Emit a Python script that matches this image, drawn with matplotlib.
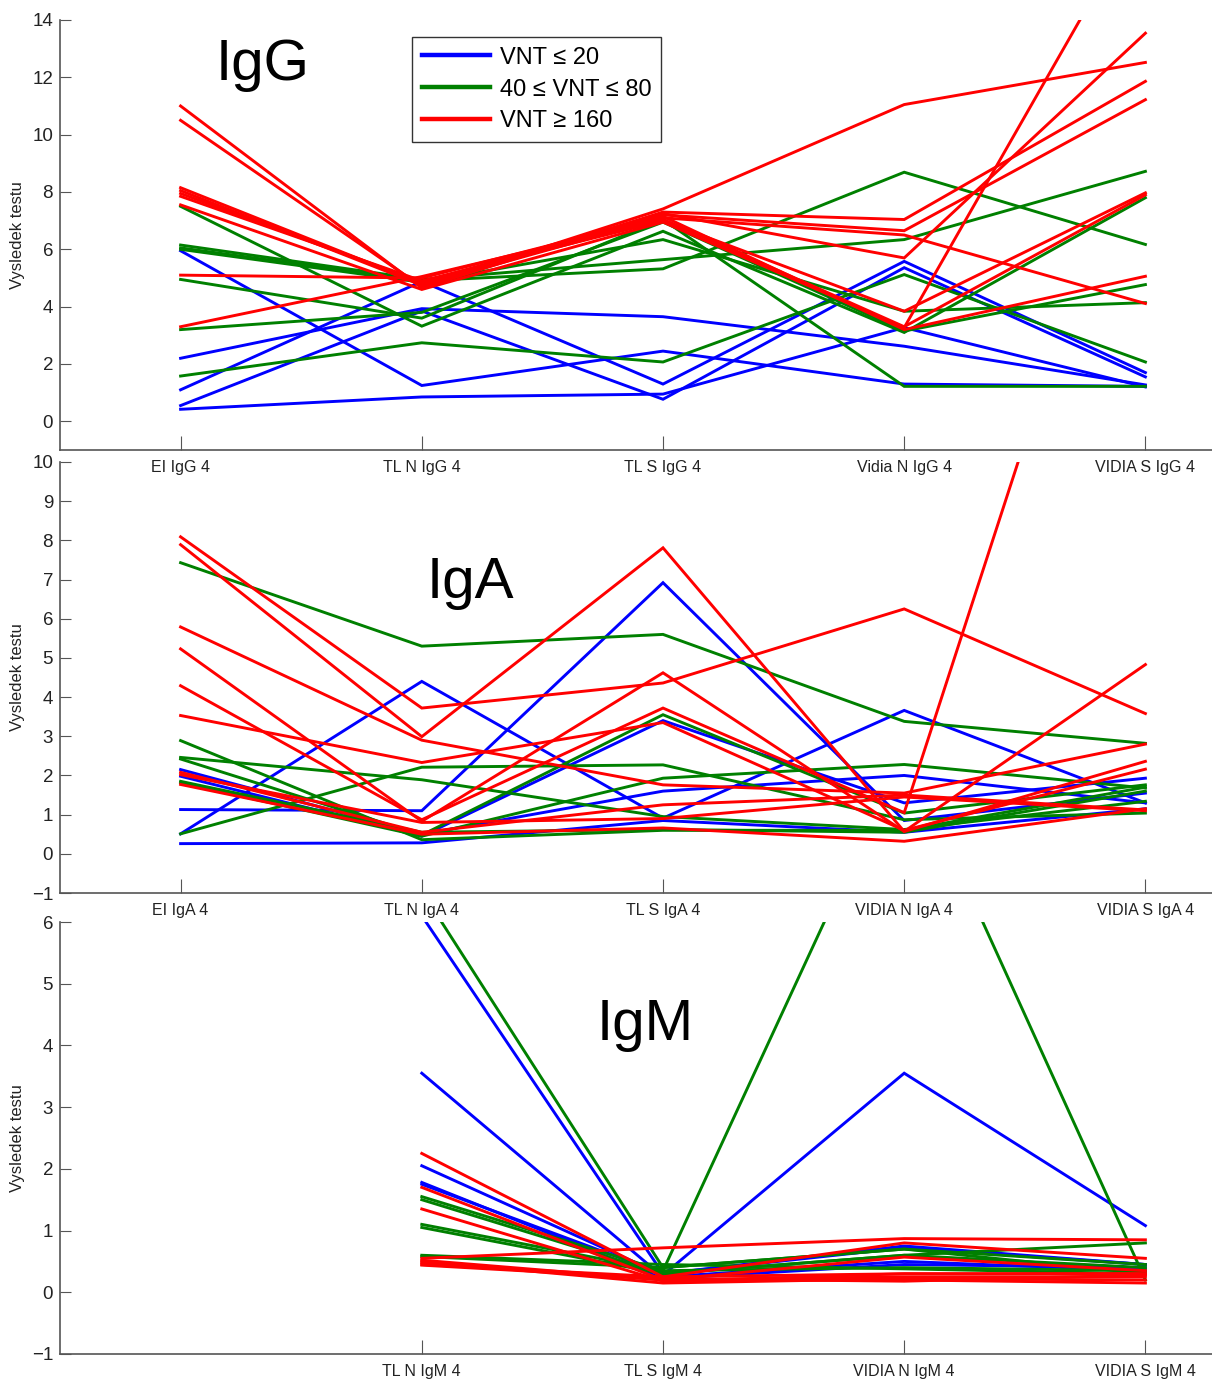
import matplotlib
matplotlib.use("Agg")
import matplotlib.pyplot as plt
from matplotlib.lines import Line2D

plt.rcParams['font.family'] = ['Liberation Sans', 'DejaVu Sans']

# category labels for each panel
igg_labels = ["EI IgG 4", "TL N IgG 4", "TL S IgG 4", "Vidia N IgG 4", "VIDIA S IgG 4"]
iga_labels = ["EI IgA 4", "TL N IgA 4", "TL S IgA 4", "VIDIA N IgA 4", "VIDIA S IgA 4"]
igm_labels = ["TL N IgM 4", "TL S IgM 4", "VIDIA N IgM 4", "VIDIA S IgM 4"]

# IgG results, one row per patient
igg_blue = [
    [5.95, 1.25, 2.45, 1.30, 1.22],
    [2.20, 3.93, 3.65, 2.62, 1.27],
    [1.10, 4.88, 1.30, 5.58, 1.70],
    [0.55, 3.85, 0.77, 5.36, 1.55],
    [0.42, 0.85, 0.95, 3.27, 1.20],
]
igg_green = [
    [7.50, 3.32, 6.63, 3.10, 7.80],
    [6.15, 4.95, 5.64, 6.34, 8.72],
    [6.05, 4.90, 5.32, 8.69, 6.17],
    [6.00, 4.85, 6.34, 3.84, 4.14],
    [4.95, 3.60, 7.04, 1.22, 1.22],
    [3.20, 3.80, 6.95, 3.15, 4.77],
    [1.58, 2.74, 2.07, 5.12, 2.07],
]
igg_red = [
    [11.0, 4.65, 7.30, 7.04, 11.86],
    [10.5, 4.70, 7.41, 11.05, 12.52],
    [8.15, 4.80, 7.20, 6.65, 11.22],
    [8.05, 4.75, 7.10, 6.50, 4.11],
    [7.95, 4.85, 7.25, 5.70, 13.54],
    [7.85, 4.90, 7.00, 3.84, 7.97],
    [7.55, 4.60, 6.95, 3.27, 18.0],
    [5.10, 5.00, 7.15, 3.20, 5.06],
    [3.30, 5.05, 7.05, 3.30, 7.90],
]

# IgA results
iga_blue = [
    [0.51, 4.40, 0.91, 3.66, 1.30],
    [1.13, 1.10, 6.92, 0.85, 1.55],
    [2.15, 0.50, 1.60, 2.00, 1.30],
    [1.98, 0.45, 3.40, 1.30, 1.93],
    [0.26, 0.28, 0.85, 0.55, 1.15],
]
iga_green = [
    [7.43, 5.30, 5.60, 3.38, 2.82],
    [2.89, 0.36, 0.60, 0.60, 1.70],
    [2.46, 1.89, 0.95, 0.62, 1.34],
    [2.42, 0.48, 3.55, 1.04, 1.76],
    [1.81, 0.45, 1.93, 2.28, 1.68],
    [0.51, 2.21, 2.27, 0.87, 1.04],
    [1.85, 0.55, 0.62, 0.55, 1.60],
]
iga_red = [
    [8.09, 3.72, 4.36, 6.25, 3.58],
    [7.89, 2.99, 7.81, 0.57, 4.83],
    [5.79, 2.90, 1.76, 1.55, 2.80],
    [5.23, 0.83, 4.62, 0.57, 2.36],
    [4.29, 0.87, 3.72, 1.05, 20.0],
    [3.53, 2.33, 3.35, 0.60, 2.16],
    [2.08, 0.55, 1.25, 1.50, 1.12],
    [2.02, 0.80, 0.90, 1.45, 1.10],
    [1.77, 0.50, 0.66, 0.32, 1.15],
]

# IgM results
igm_blue = [
    [6.10, 0.30, 0.75, 0.45],
    [3.55, 0.25, 0.50, 0.35],
    [2.05, 0.28, 3.55, 1.08],
    [1.78, 0.22, 0.45, 0.40],
    [1.75, 0.30, 0.72, 0.45],
]
igm_green = [
    [6.50, 0.40, 0.70, 0.45],
    [1.55, 0.35, 8.80, 0.20],
    [1.50, 0.30, 0.60, 0.80],
    [1.10, 0.35, 0.40, 0.35],
    [1.05, 0.30, 0.60, 0.40],
    [0.60, 0.45, 0.38, 0.30],
    [0.58, 0.40, 0.70, 0.30],
]
igm_red = [
    [2.25, 0.25, 0.80, 0.55],
    [1.70, 0.20, 0.57, 0.35],
    [1.35, 0.18, 0.30, 0.30],
    [0.55, 0.72, 0.87, 0.85],
    [0.52, 0.20, 0.25, 0.25],
    [0.50, 0.15, 0.22, 0.20],
    [0.48, 0.20, 0.20, 0.15],
    [0.45, 0.25, 0.30, 0.30],
    [0.44, 0.22, 0.18, 0.28],
]

legend_labels = ["VNT \u2264 20", "40 \u2264 VNT \u2264 80", "VNT \u2265 160"]
colors = ["#0000ff", "#008000", "#ff0000"]

W, H = 1212, 1379
fig = plt.figure(figsize=(W / 100, H / 100), dpi=100)


def make_axes(top_px, bottom_px):
    left = 60 / W
    width = 1206 / W
    ax = fig.add_axes([left, 1 - bottom_px / H, width, (bottom_px - top_px) / H])
    ax.patch.set_visible(False)
    return ax


def style(ax, ylo, yhi, yticks, xpos, xlabels):
    ax.set_xlim(0.5, 5.5)
    ax.set_ylim(ylo, yhi)
    ax.set_yticks(yticks)
    ax.set_xticks(xpos)
    ax.set_xticklabels(xlabels, fontsize=11.5, color='#222222')
    ax.tick_params(axis='y', labelsize=13.5, labelcolor='#222222', direction='in',
                   length=8, color='#555555', pad=5)
    ax.tick_params(axis='x', direction='in', length=10, color='#555555', pad=7)
    for s in ['top', 'right']:
        ax.spines[s].set_visible(False)
    for s in ['left', 'bottom']:
        ax.spines[s].set_color('#555555')
        ax.spines[s].set_linewidth(1.2)
    ax.set_ylabel("Vysledek testu", fontsize=12, color='#222222')
    ax.yaxis.set_label_coords(-0.029, 0.5)


def draw(ax, xpos, groups):
    for rows, c in zip(groups, colors):
        for r in rows:
            ax.plot(xpos, r, color=c, lw=2.1, solid_joinstyle='miter')


pos5 = [1, 2, 3, 4, 5]
pos4 = [2, 3, 4, 5]

ax1 = make_axes(20, 450)
draw(ax1, pos5, [igg_blue, igg_green, igg_red])
style(ax1, -1, 14, range(0, 15, 2), pos5, igg_labels)
ax1.text(0.168, 0.895, "IgG", transform=ax1.transAxes, fontsize=42,
         ha='center', va='center')
handles = [Line2D([], [], color=c, lw=3.2) for c in colors]
ax1.legend(handles, legend_labels, loc='upper left', bbox_to_anchor=(0.292, 0.96),
           fontsize=17, handlelength=2.9, frameon=True, fancybox=False,
           edgecolor='black', borderpad=0.4, labelspacing=0.42, handletextpad=0.4,
           borderaxespad=0)

ax2 = make_axes(462, 893)
draw(ax2, pos5, [iga_blue, iga_green, iga_red])
style(ax2, -1, 10, range(-1, 11), pos5, iga_labels)
ax2.text(0.34, 0.72, "IgA", transform=ax2.transAxes, fontsize=42,
         ha='center', va='center')

ax3 = make_axes(922, 1354)
draw(ax3, pos4, [igm_blue, igm_green, igm_red])
style(ax3, -1, 6, range(-1, 7), pos4, igm_labels)
ax3.text(0.485, 0.762, "IgM", transform=ax3.transAxes, fontsize=42,
         ha='center', va='center')

fig.savefig("out.png", dpi=100)
